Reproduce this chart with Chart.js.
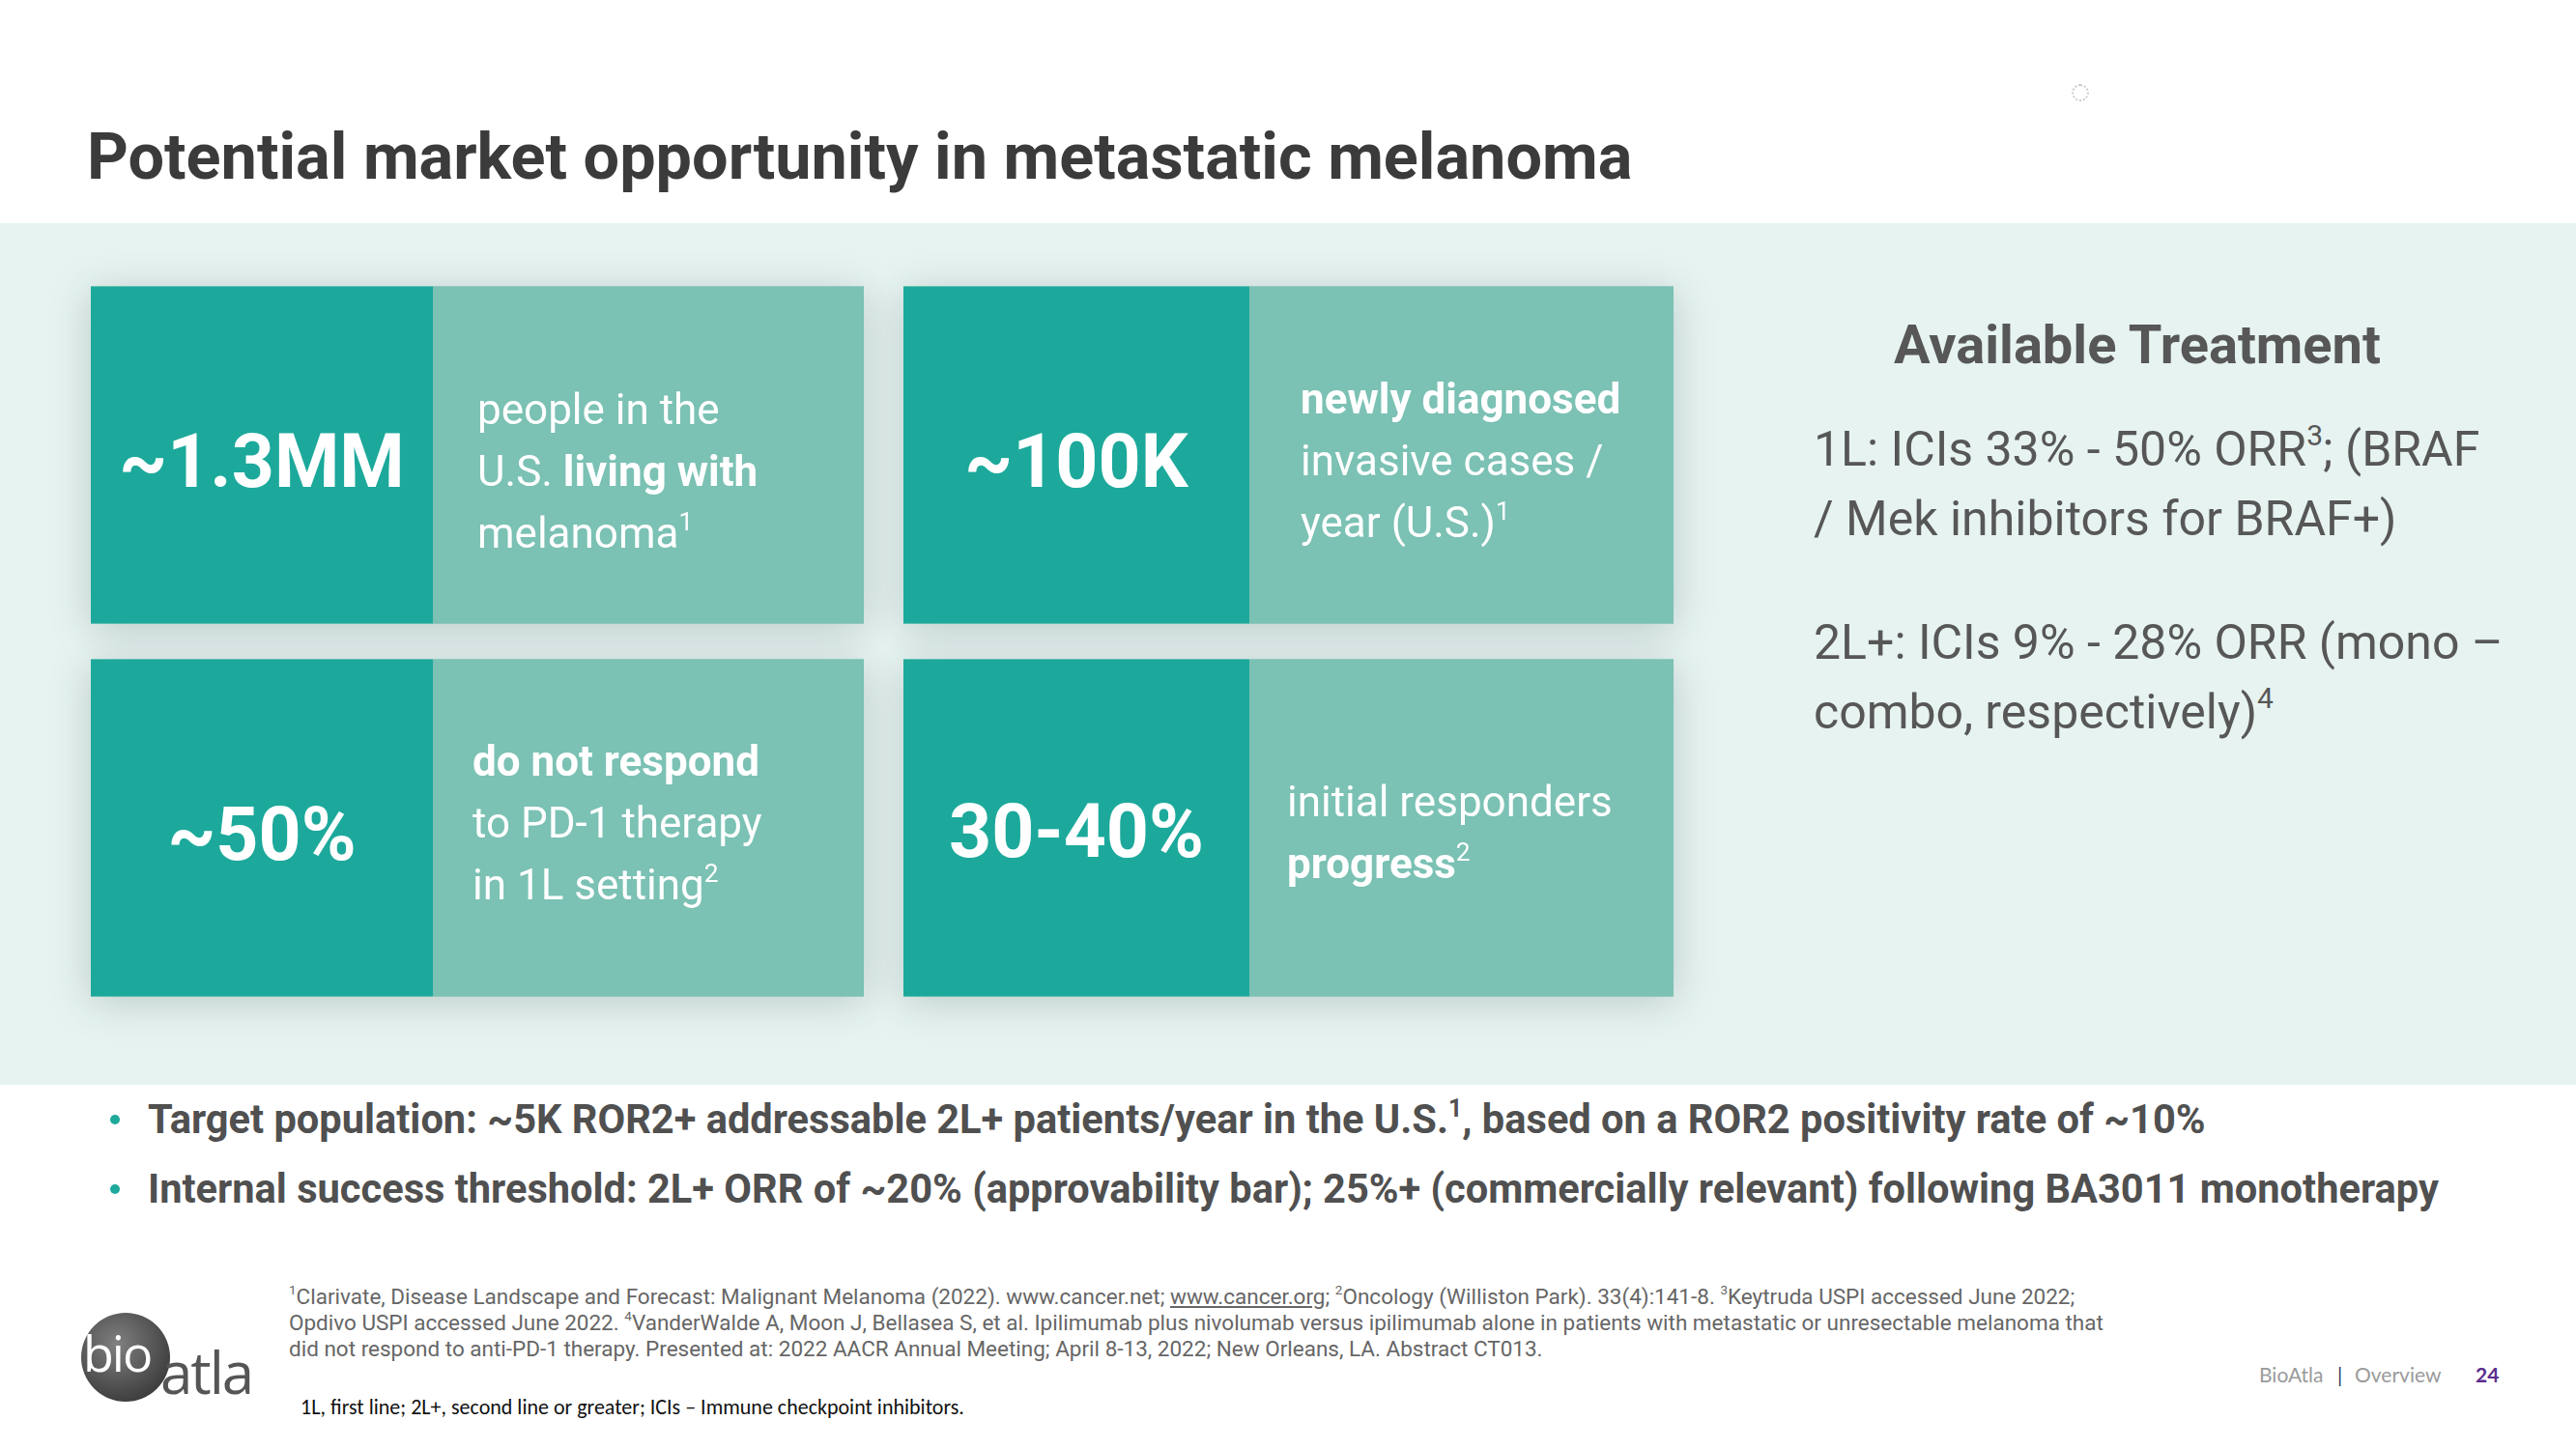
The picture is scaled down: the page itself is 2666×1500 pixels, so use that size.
<!DOCTYPE html>
<html>
<head>
<meta charset="utf-8">
<script src="https://cdn.jsdelivr.net/npm/chart.js@4.4.0/dist/chart.umd.min.js"></script>
<style>
    html, body { margin: 0; padding: 0; background: #fff; }
    #slide { position: relative; width: 2666px; height: 1500px; overflow: hidden; font-family: Roboto, "Noto Sans", sans-serif; }
    #title { position: absolute; left: 90px; top: 129px; font: 700 66.6px/67px Roboto; color: #3b3b3b; white-space: nowrap; }
    #band { position: absolute; left: 0; top: 231px; width: 2666px; height: 892px; background: #e6f3f1; }
    #tiles { position: absolute; left: 34px; top: 236px; width: 1758px; height: 856px; }
    .tile-stat { position: absolute; display: flex; align-items: center; justify-content: center; font: 700 77px/77px Roboto; color: #fff; white-space: nowrap; }
    .tile-note { position: absolute; display: flex; flex-direction: column; justify-content: center; box-sizing: border-box; font: 400 44px/64px Roboto; color: #fff; white-space: nowrap; }
    sup { font-size: 0.6em; line-height: 0; position: relative; top: -0.1em; vertical-align: super; }
    #treatHead { position: absolute; left: 1860px; top: 329px; width: 704px; text-align: center; font: 700 56px/56px Roboto; color: #575757; }
    #treatBody { position: absolute; left: 1877px; top: 429px; font: 400 50px/72px Roboto; color: #575757; white-space: nowrap; }
    #treatBody p { margin: 0; }
    #treatBody p + p { margin-top: 56px; }
    #bullets { position: absolute; left: 153px; top: 1123px; font: 700 41.6px/72px Roboto; color: #505050; white-space: nowrap; }
    #bullets div { position: relative; }
    #bullets div::before { content: ""; position: absolute; left: -39px; top: 31px; width: 10px; height: 10px; border-radius: 50%; background: #1da99b; }
    #refs { position: absolute; left: 299px; top: 1329px; font: 400 22.5px/27px Roboto; color: #666; white-space: nowrap; }
    #refs u { text-decoration: underline; }
    #abbr { position: absolute; left: 311px; top: 1446px; font: 400 22px/22px Carlito, "Liberation Sans Narrow", "Liberation Sans", sans-serif; color: #111; white-space: nowrap; }
    #logoCircle { position: absolute; left: 84px; top: 1359px; width: 92px; height: 92px; border-radius: 50%; background: radial-gradient(circle at 40% 35%, #808080, #3e3e3e 75%); }
    #logoBio { position: absolute; left: 86px; top: 1374px; font: 400 52px/52px "Open Sans"; color: #fff; letter-spacing: -2px; }
    #logoAtla { position: absolute; left: 166px; top: 1390px; font: 400 60px/60px "Open Sans"; color: #555; letter-spacing: -2px; }
    .foot { position: absolute; top: 1412px; font: 400 21px/21px Lato; color: #9a9a9a; white-space: nowrap; }
    #spinner { position: absolute; left: 2144px; top: 87px; width: 14px; height: 14px; border: 2px dotted #c9c9c9; border-radius: 50%; }
</style>
</head>
<body>
<div id="slide">
    <div id="title"></div>
    <div id="spinner"></div>
    <div id="band"></div>
    <div id="tiles"><canvas id="tileChart"></canvas></div>
    <div id="treatHead"></div>
    <div id="treatBody"></div>
    <div id="bullets"></div>
    <div id="refs"></div>
    <div id="abbr"></div>
    <div id="logoCircle"></div>
    <div id="logoBio">bio</div>
    <div id="logoAtla">atla</div>
    <div class="foot" style="left:2338px">BioAtla</div>
    <div class="foot" style="left:2419px;color:#2b3a5c">|</div>
    <div class="foot" style="left:2437px">Overview</div>
    <div class="foot" style="left:2562px;color:#5a2d8c;font-weight:700">24</div>
</div>
<script>
const titleText = 'Potential market opportunity in metastatic melanoma';

const tileStats = ['~1.3MM', '~100K', '~50%', '30-40%'];
const tileNotes = [
    ['people in the', 'U.S. <b>living with</b>', 'melanoma<sup>1</sup>'],
    ['<b>newly diagnosed</b>', 'invasive cases /', 'year (U.S.)<sup>1</sup>'],
    ['<b>do not respond</b>', 'to PD-1 therapy', 'in 1L setting<sup>2</sup>'],
    ['initial responders', '<b>progress</b><sup>2</sup>']
];

const treatmentHeading = 'Available Treatment';
const treatmentLines = [
    ['1L: ICIs 33% - 50% ORR<sup>3</sup>; (BRAF', '/ Mek inhibitors for BRAF+)'],
    ['2L+: ICIs 9% - 28% ORR (mono –', 'combo, respectively)<sup>4</sup>']
];

const bulletLines = [
    'Target population: ~5K ROR2+ addressable 2L+ patients/year in the U.S.<sup>1</sup>, based on a ROR2 positivity rate of ~10%',
    'Internal success threshold: 2L+ ORR of ~20% (approvability bar); 25%+ (commercially relevant) following BA3011 monotherapy'
];

const refLines = [
    '<sup>1</sup>Clarivate, Disease Landscape and Forecast: Malignant Melanoma (2022). www.cancer.net; <u>www.cancer.org</u>; <sup>2</sup>Oncology (Williston Park). 33(4):141-8. <sup>3</sup>Keytruda USPI accessed June 2022;',
    'Opdivo USPI accessed June 2022. <sup>4</sup>VanderWalde A, Moon J, Bellasea S, et al. Ipilimumab plus nivolumab versus ipilimumab alone in patients with metastatic or unresectable melanoma that',
    'did not respond to anti-PD-1 therapy. Presented at: 2022 AACR Annual Meeting; April 8-13, 2022; New Orleans, LA. Abstract CT013.'
];
const abbrText = '1L, first line; 2L+, second line or greater; ICIs – Immune checkpoint inhibitors.';

// tile grid: two rows, each row = stat | note | gap | stat | note
const tileRows = ['row 1', 'row 2'];
const segmentWidths = [354, 446, 41, 358, 439];

const darkTeal = '#1ca99b';
const lightTeal = '#7bc1b4';
const segmentColors = [darkTeal, lightTeal, 'rgba(0,0,0,0)', darkTeal, lightTeal];

// small per-tile nudges of the text inside the tiles (px)
const statShift = [8, 8, 8, 5];
const notePad = [46, 53, 41, 39];
const noteShift = [17, 6, -5, 5];


document.getElementById('title').textContent = titleText;
document.getElementById('treatHead').textContent = treatmentHeading;
document.getElementById('treatBody').innerHTML = treatmentLines.map(p => '<p>' + p.join('<br>') + '</p>').join('');
document.getElementById('bullets').innerHTML = bulletLines.map(l => '<div>' + l + '</div>').join('');
document.getElementById('refs').innerHTML = refLines.join('<br>');
document.getElementById('abbr').textContent = abbrText;

const tilesBox = document.getElementById('tiles');
const statDivs = tileStats.map(s => {
    const d = document.createElement('div');
    d.className = 'tile-stat';
    d.textContent = s;
    tilesBox.appendChild(d);
    return d;
});
const noteDivs = tileNotes.map(lines => {
    const d = document.createElement('div');
    d.className = 'tile-note';
    d.innerHTML = lines.map(l => '<div>' + l + '</div>').join('');
    tilesBox.appendChild(d);
    return d;
});


function tile_boxes(chart) {
    const boxes = [];
    tileRows.forEach((row, r) => {
        [0, 1].forEach(c => {
            const dark = chart.getDatasetMeta(c * 3).data[r];
            const light = chart.getDatasetMeta(c * 3 + 1).data[r];
            boxes.push({
                left: dark.base, split: dark.x, right: light.x,
                top: dark.y - dark.height / 2, height: dark.height
            });
        });
    });
    return boxes;
}

const tileShadow = {
    id: 'tileShadow',
    beforeDatasetsDraw(chart) {
        const ctx = chart.ctx;
        ctx.save();
        ctx.shadowColor = 'rgba(30, 60, 55, 0.22)';
        ctx.shadowBlur = 40;
        ctx.shadowOffsetY = 6;
        ctx.fillStyle = lightTeal;
        tile_boxes(chart).forEach(b => ctx.fillRect(b.left, b.top, b.right - b.left, b.height));
        ctx.restore();
    }
};

const tileText = {
    id: 'tileText',
    afterDraw(chart) {
        tile_boxes(chart).forEach((b, i) => {
            Object.assign(statDivs[i].style, {
                left: b.left + 'px', top: (b.top + statShift[i]) + 'px',
                width: (b.split - b.left) + 'px', height: b.height + 'px'
            });
            Object.assign(noteDivs[i].style, {
                left: b.split + 'px', top: (b.top + noteShift[i]) + 'px',
                width: (b.right - b.split) + 'px', height: b.height + 'px',
                paddingLeft: notePad[i] + 'px'
            });
        });
    }
};

new Chart(document.getElementById('tileChart'), {
    type: 'bar',
    data: {
        labels: tileRows,
        datasets: segmentWidths.map((w, i) => ({
            data: tileRows.map(() => w),
            backgroundColor: segmentColors[i],
            borderWidth: 0,
            barPercentage: 0.904,
            categoryPercentage: 1
        }))
    },
    options: {
        indexAxis: 'y',
        responsive: true,
        maintainAspectRatio: false,
        animation: false,
        events: [],
        layout: {padding: {left: 60, right: 60, top: 42, bottom: 42}},
        plugins: {legend: {display: false}, tooltip: {enabled: false}},
        scales: {
            x: {type: 'linear', stacked: true, display: false, min: 0, max: segmentWidths.reduce((a, b) => a + b, 0)},
            y: {type: 'category', stacked: true, display: false}
        }
    },
    plugins: [tileShadow, tileText]
});
</script>
</body>
</html>
